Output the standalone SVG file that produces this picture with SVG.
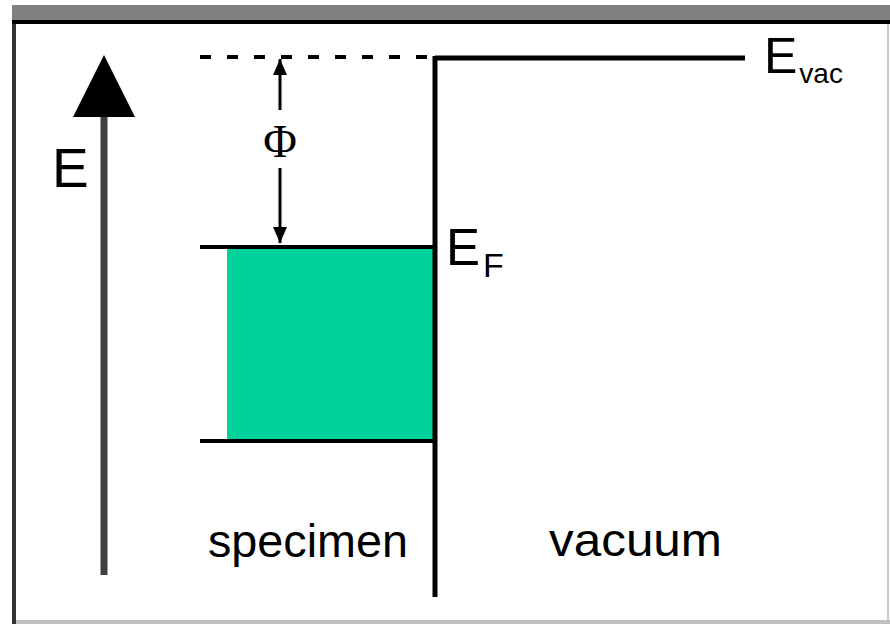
<svg xmlns="http://www.w3.org/2000/svg" width="890" height="624" viewBox="0 0 890 624">
<style>
.t{font-family:"Liberation Sans",Arial,sans-serif;fill:#000}
.ln{stroke:#000;fill:none}
</style>
<defs>
<marker id="ah" viewBox="0 0 16 14" refX="16" refY="7" markerWidth="16" markerHeight="14" markerUnits="userSpaceOnUse" orient="auto">
<path d="M0,0 L16,7 L0,14 z" fill="#000"/>
</marker>
</defs>
<rect width="890" height="624" fill="#fff"/>
<g id="frame">
<rect x="12" y="5" width="878" height="15" fill="#808080"/>
<rect x="12" y="20" width="878" height="4" fill="#000"/>
<rect x="12" y="24" width="4" height="600" fill="#333"/>
<rect x="16" y="620" width="874" height="4" fill="#c0c0c0"/>
<rect x="887" y="24" width="2" height="596" fill="#c8c8c8"/>
</g>
<g id="energy-axis">
<line x1="104" y1="115" x2="104" y2="575" stroke="#404040" stroke-width="7"/>
<polygon points="104,55 73,117 135,117" fill="#000"/>
<text class="t" x="52" y="187" font-size="55">E</text>
</g>
<g id="band">
<rect x="227" y="248" width="208" height="193" fill="#00d29c"/>
</g>
<g id="connectors">
<line class="ln" x1="200" y1="57" x2="432" y2="57" stroke-width="4" stroke-dasharray="11 16"/>
<line class="ln" x1="435" y1="58" x2="745" y2="58" stroke-width="5"/>
<line class="ln" x1="435" y1="56" x2="435" y2="597" stroke-width="5"/>
<line class="ln" x1="200" y1="247" x2="435" y2="247" stroke-width="4" stroke="#1a3a30"/>
<line class="ln" x1="200" y1="441" x2="435" y2="441" stroke-width="4" stroke="#1a3a30"/>
<line class="ln" x1="280" y1="110" x2="280" y2="59" stroke-width="3" marker-end="url(#ah)"/>
<line class="ln" x1="280" y1="168" x2="280" y2="243" stroke-width="3" marker-end="url(#ah)"/>
</g>
<g id="labels">
<text x="280" y="157" font-size="46" text-anchor="middle" font-family="'Liberation Serif','Times New Roman',serif">Φ</text>
<text class="t" x="764" y="73" font-size="50">E<tspan font-size="28" dy="10" dx="2">vac</tspan></text>
<text class="t" x="446" y="265" font-size="51">E<tspan font-size="34" dy="12" dx="3">F</tspan></text>
<text class="t" x="208" y="557" font-size="46" textLength="200" lengthAdjust="spacingAndGlyphs">specimen</text>
<text class="t" x="549" y="556" font-size="46" textLength="173" lengthAdjust="spacingAndGlyphs">vacuum</text>
</g>
</svg>
